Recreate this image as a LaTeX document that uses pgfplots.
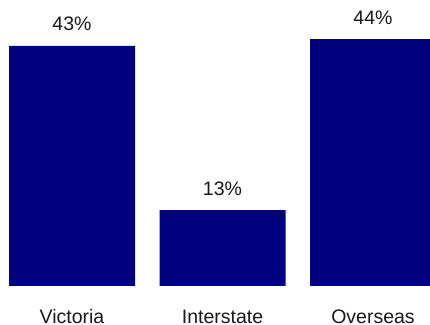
\documentclass[border=0pt]{standalone}
\usepackage{fontspec}
\setmainfont{Liberation Sans}
\usepackage{pgfplots}
\pgfplotsset{compat=1.18}
\definecolor{barnavy}{RGB}{0,0,128}
\begin{document}
\begin{tikzpicture}
\begin{axis}[
  scale only axis,
  width=430pt, height=324pt,
  xmin=-0.4784, xmax=2.3787,
  ymin=-6.786, ymax=51.07,
  axis line style={draw=none},
  tick style={draw=none},
  ytick=\empty,
  xtick={0,1,2},
  xticklabels={Victoria,Interstate,Overseas},
  xticklabel style={anchor=base, inner sep=0pt, yshift=5pt, font=\fontsize{19.5}{23}\selectfont, text=black!90},
  ybar, bar width=126pt, bar shift=0pt,
  clip=true,
  point meta=explicit symbolic,
  nodes near coords,
  nodes near coords style={anchor=base, inner sep=0pt, yshift=15pt, font=\fontsize{19.5}{23}\selectfont, text=black!90},
]
\addplot[draw=none, fill=barnavy] coordinates {
  (0,42.86) [43\%]
  (1,13.57) [13\%]
  (2,44.1) [44\%]
};
\end{axis}
\pgfresetboundingbox
\useasboundingbox (current axis.south west) rectangle (current axis.north east);
\end{tikzpicture}
\end{document}
